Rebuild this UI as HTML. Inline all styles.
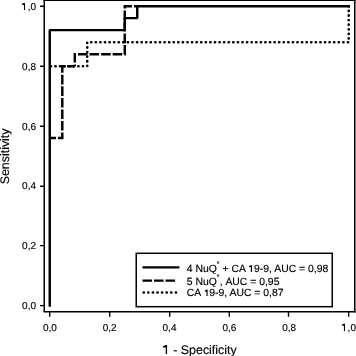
<!DOCTYPE html>
<html>
<head>
<meta charset="utf-8">
<style>
html,body{margin:0;padding:0;background:#fff;width:356px;height:356px;overflow:hidden}
svg{display:block;will-change:transform}
text{font-family:"Liberation Sans",sans-serif;fill:#000;stroke:#000;stroke-width:0.15px;text-rendering:geometricPrecision}
</style>
</head>
<body>
<svg width="356" height="356" viewBox="0 0 356 356">
<!-- frame -->
<g fill="none" stroke="#000" stroke-width="1.5">
<path d="M44.25 0 V311.7"/>
<path d="M43.5 311.7 H355.5"/>
<path d="M354.75 0 V312.4"/>
<path d="M43.5 0.25 H355.5"/>
</g>
<!-- ticks -->
<g stroke="#000" stroke-width="1.4">
<path d="M40 305.6H44 M40 245.6H44 M40 186.3H44 M40 126.3H44 M40 66.3H44 M40 6.3H44"/>
<path d="M49.7 312V316.7 M109.7 312V316.7 M169.7 312V316.7 M229.3 312V316.7 M288.5 312V316.7 M348.65 312V316.7"/>
</g>
<g font-size="10" text-anchor="end">
<text transform="translate(36 309.2)">0,0</text>
<text transform="translate(36 249.3)">0,2</text>
<text transform="translate(36 189.4)">0,4</text>
<text transform="translate(36 129.5)">0,6</text>
<text transform="translate(36 69.7)">0,8</text>
<text transform="translate(36 9.8)"><tspan style="fill:none;stroke:none">1</tspan>,0</text>
</g>
<g font-size="10" text-anchor="middle">
<text transform="translate(49.9 331)">0,0</text>
<text transform="translate(109.7 331)">0,2</text>
<text transform="translate(169.5 331)">0,4</text>
<text transform="translate(229.4 331)">0,6</text>
<text transform="translate(289.2 331)">0,8</text>
<text transform="translate(349 331)"><tspan style="fill:none;stroke:none">1</tspan>,0</text>
</g>
<text font-size="12.4" x="199.8" y="353.5" text-anchor="middle"><tspan style="fill:none;stroke:none">1</tspan> - Specificity</text>
<text font-size="12.4" transform="translate(9.3 156.4) rotate(-90)" text-anchor="middle">Sensitivity</text>

<!-- curves -->
<g fill="none" stroke="#000" stroke-width="2.45">
<path d="M49.75 66.15 H87.25 V42.3 H348.7 V6.15" stroke-dasharray="0.3 4.284" stroke-dashoffset="3.566" stroke-linecap="round" stroke-width="2.55"/>
<path d="M49.75 137.9 H62.3 V66.15 H74.8" stroke-dasharray="9.6 1.95" stroke-dashoffset="3.260"/>
<path d="M74.8 66.15 V54.15 H124.75 V6.15 H137.25" stroke-dasharray="9.6 1.95" stroke-dashoffset="7.9"/>
<path d="M49.75 305.5 V30.1 H124.75 V18.1 H137.25 V6.15 H348.7" stroke-linecap="square" stroke-linejoin="bevel"/>
</g>

<!-- legend -->
<rect x="136.25" y="253.3" width="196" height="53.4" fill="#fff" stroke="#000" stroke-width="1.5"/>
<g fill="none" stroke="#000">
<path d="M142.5 267.25H179.4" stroke-width="2.25"/>
<path d="M142.5 280.6H175.1" stroke-width="2.2" stroke-dasharray="9.6 1.9"/>
<path d="M142.55 292.6H177.1" stroke-width="2.5" stroke-dasharray="0.3 4.29" stroke-dashoffset="3.54" stroke-linecap="round"/>
</g>
<g font-size="10.4">
<text transform="translate(186.8 272.2)">4 NuQ<tspan font-size="5.6" style="stroke:none" dy="-8.3">κ</tspan><tspan dy="8.3"> + CA <tspan style="fill:none;stroke:none">1</tspan>9-9, AUC = 0,98</tspan></text>
<text transform="translate(186.8 284.7)">5 NuQ<tspan font-size="5.6" style="stroke:none" dy="-7.8">κ</tspan><tspan dy="7.8">, AUC = 0,95</tspan></text>
<text transform="translate(186.8 296.2)">CA <tspan style="fill:none;stroke:none">1</tspan>9-9, AUC = 0,87</text>
</g>
<!-- custom "1" glyphs -->
<path fill="#000" d="M25.05 10.00 V3.00 H24.10 L21.85 3.80 V4.80 L23.95 5.05 V10.00 Z M345.00 331.00 V323.70 H344.05 L341.85 324.40 V325.40 L343.90 325.65 V331.00 Z M167.05 354.00 V345.00 H165.90 L162.95 346.23 V347.38 L165.75 347.62 V354.00 Z M251.97 272.00 V265.20 H250.98 L249.05 265.88 V266.92 L250.83 267.17 V272.00 Z M207.62 296.00 V289.50 H206.63 L204.90 290.38 V291.42 L206.48 291.67 V296.00 Z"/>
</svg>
</body>
</html>
